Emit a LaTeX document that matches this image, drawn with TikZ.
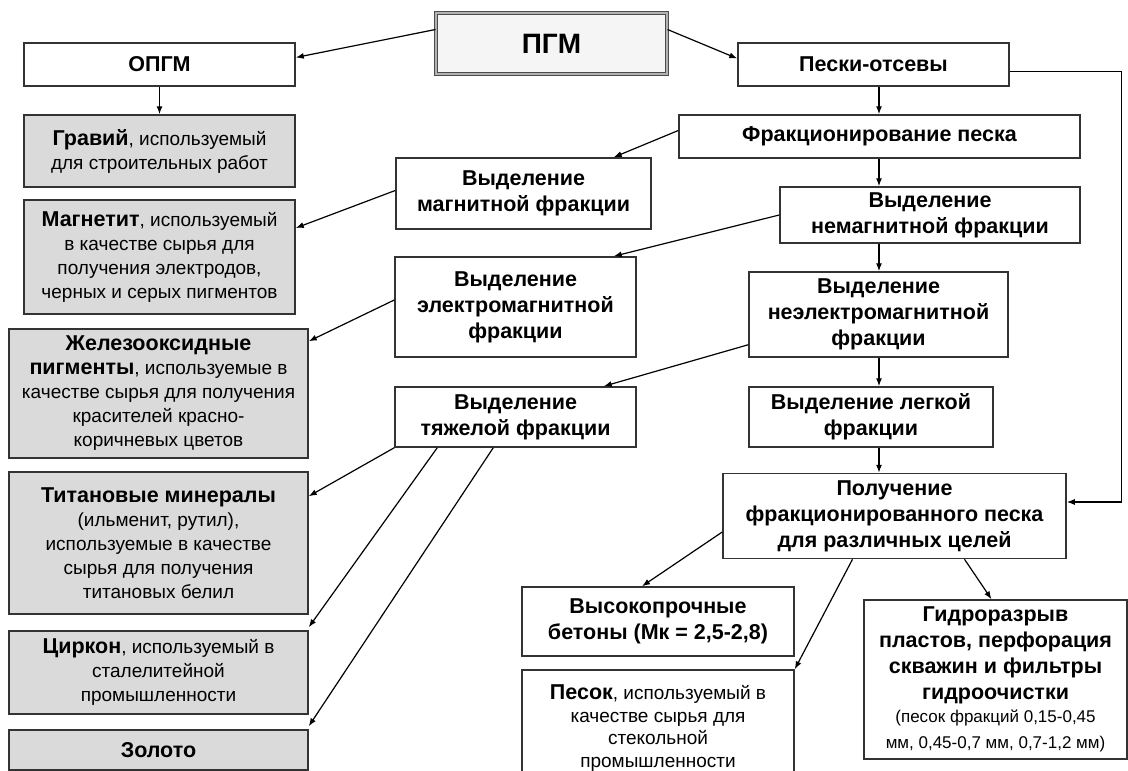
\documentclass[tikz,border=0pt]{standalone}
\usepackage{fontspec}
\setmainfont{Liberation Sans}
\usetikzlibrary{arrows.meta}
\definecolor{boxgrey}{RGB}{218,218,218}
\newcommand{\bword}[1]{{\fontsize{21.5}{26}\selectfont\bfseries #1}}
\newcommand{\smalltxt}[1]{{\fontsize{17}{22}\selectfont\mdseries #1}}

\begin{document}
\begin{tikzpicture}[x=1pt,y=-1pt,
    box/.style={draw=black!80, line width=1.5pt, align=center, inner sep=0pt,
      font=\fontsize{21.5}{26}\selectfont\bfseries},
    greybox/.style={box, fill=boxgrey, font=\fontsize{19}{24}\selectfont},
    sz/.style 2 args={minimum width=#1pt, minimum height=#2pt},
    arr/.style={line width=1.2pt, -{Latex[length=8pt,width=6pt]}}]
  \useasboundingbox (0,0) rectangle (1128,771);

  % top
  \node[box, sz={231}{61}, fill=black!4, draw=black!70, line width=1pt,
    double=black!30, double distance=2.5pt,
    font=\fontsize{28}{32}\selectfont\bfseries] (pgm) at (551.5,43.5) {ПГМ};
  \node[box, sz={271}{43}] (opgm) at (159.5,64.5) {ОПГМ};
  \node[box, sz={271}{43}] (peski) at (873.5,64.5) {Пески-отсевы};

  % left column
  \node[greybox, sz={271}{72}] (gravij) at (159.5,151)
    {\bword{Гравий}, используемый\\для строительных работ};
  \node[greybox, sz={271}{114}] (magnetit) at (159.5,257)
    {\bword{Магнетит}, используемый\\в качестве сырья для\\получения электродов,\\черных и серых пигментов};
  \node[greybox, sz={299}{129}] (zhelezo) at (158.5,393.5)
    {\bword{Железооксидные}\\\bword{пигменты}, используемые в\\качестве сырья для получения\\красителей красно-\\коричневых цветов};
  \node[greybox, sz={299}{142}] (titan) at (158.5,543)
    {\bword{Титановые минералы}\\(ильменит, рутил),\\используемые в качестве\\сырья для получения\\титановых белил};
  \node[greybox, sz={299}{83}] (cirkon) at (158.5,672.5)
    {\bword{Циркон}, используемый в\\сталелитейной\\промышленности};
  \node[greybox, sz={299}{40}] (zoloto) at (158.5,750) {\bword{Золото}};

  % middle column
  \node[box, sz={401}{43}] (frak) at (879.5,136.5) {Фракционирование песка};
  \node[box, sz={255}{71}] (magn) at (523.5,193.5) {Выделение\\магнитной фракции};
  \node[box, sz={300}{56}] (nemagn) at (930,215) {Выделение\\немагнитной фракции};
  \node[box, sz={241}{100}] (emagn) at (515.5,307) {Выделение\\электромагнитной\\фракции};
  \node[box, sz={259}{85}] (neemagn) at (878.5,314.5) {Выделение\\неэлектромагнитной\\фракции};
  \node[box, sz={241}{60}] (tyazh) at (515.5,417) {Выделение\\тяжелой фракции};
  \node[box, sz={244}{60}] (legk) at (871,417) {Выделение легкой\\фракции};
  \node[box, sz={343}{85}] (poluch) at (894.5,516)
    {Получение\\фракционированного песка\\для различных целей};

  % bottom
  \node[box, sz={272}{69}] (vysok) at (658,621.5) {Высокопрочные\\бетоны (Мк = 2,5-2,8)};
  \node[box, sz={272}{116}, font=\fontsize{19}{22.5}\selectfont] (pesok) at (658,728)
    {\bword{Песок}, используемый в\\качестве сырья для\\стекольной\\промышленности};
  \node[box, sz={263}{159}] (gidro) at (995.5,679.5)
    {Гидроразрыв\\пластов, перфорация\\скважин и фильтры\\гидроочистки\\[-3pt]
     \smalltxt{(песок фракций 0,15-0,45}\\\smalltxt{мм, 0,45-0,7 мм, 0,7-1,2 мм)}};

  % arrows
  \coordinate (spine) at (879,0);
  \foreach \a/\b in {peski/frak, frak/nemagn, nemagn/neemagn, neemagn/legk, legk/poluch}
    \draw[arr] (\a.south -| spine) -- (\b.north -| spine);

  \draw[arr] ([yshift=14pt]pgm.west) -- ([yshift=7pt]opgm.east);
  \draw[arr] ([yshift=14pt]pgm.east) -- ([yshift=6pt]peski.west);
  \draw[arr] (opgm.south) -- (gravij.north);
  \draw[arr] ([yshift=-7pt]peski.east) -- ++(112,0) |- ([yshift=14pt]poluch.east);
  \draw[arr] ([yshift=6pt]frak.west) -- ([xshift=-38pt]magn.north east);
  \draw[arr] ([yshift=3pt]magn.west) -- ([yshift=29pt]magnetit.east);
  \draw[arr] (nemagn.west) -- ([xshift=-23pt]emagn.north east);
  \draw[arr] ([yshift=7pt]emagn.west) -- ([yshift=-13pt]zhelezo.north east);
  \draw[arr] ([yshift=13pt]neemagn.south west) -- ([xshift=-33pt]tyazh.north east);
  \foreach \dx/\t/\dy in {0/titan/-25, 43/cirkon/3, 99/zoloto/3}
    \draw[arr] ([xshift=\dx pt]tyazh.south west) -- ([yshift=\dy pt]\t.north east);
  \draw[arr] ([yshift=-16pt]poluch.west) -- ([xshift=-16pt]vysok.north);
  \draw[arr] ([xshift=-42pt]poluch.south) -- (pesok.north east);
  \draw[arr] ([xshift=70pt]poluch.south) -- ([xshift=-4pt]gidro.north);
\end{tikzpicture}
\end{document}
